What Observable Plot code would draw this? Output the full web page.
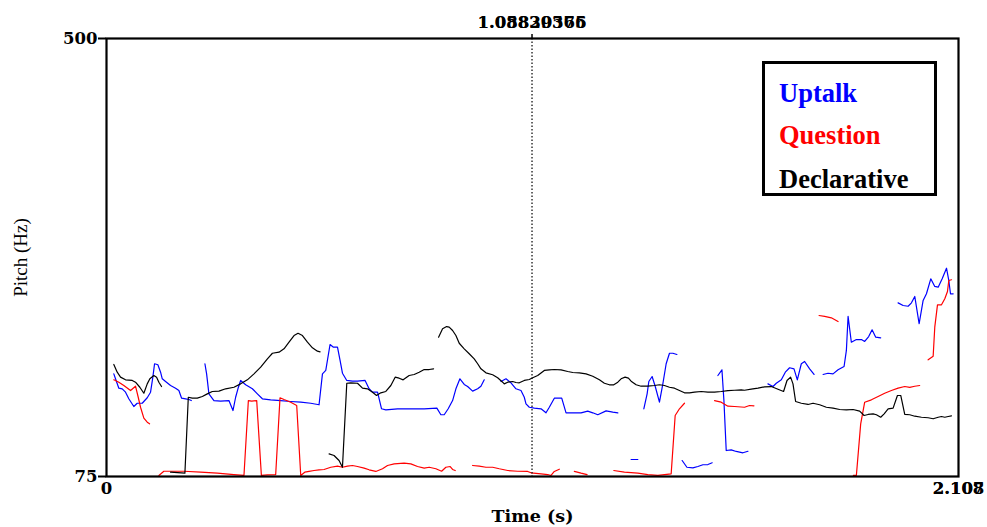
<!DOCTYPE html>
<html>
<head>
<meta charset="utf-8">
<script src="https://cdn.jsdelivr.net/npm/d3@7"></script>
<script src="https://cdn.jsdelivr.net/npm/@observablehq/plot@0.6"></script>
<style>
  html, body { margin: 0; padding: 0; background: #fff; }
  #wrap { position: relative; width: 987px; height: 527px; }
  #legend { position: absolute; left: 762px; top: 61px; width: 169px; height: 129px;
            border: 3px solid #000; background: #fff;
            font-family: "Liberation Serif", "Times New Roman", serif; font-weight: bold; font-size: 26.5px; }
  #legend div { position: absolute; left: 14px; line-height: 1; white-space: nowrap; }
</style>
</head>
<body>
<div id="wrap"></div>
<script>
// ---- data (time in s, pitch in Hz); null = unvoiced gap ----
const seriesNames = ["Uptalk", "Question", "Declarative"];
const seriesColors = ["#0000ff", "#ff0000", "#000000"];

const uptalk = [
  [0.0181,174.6],[0.0223,169.8],[0.0305,160.7],[0.0389,160.1],[0.0471,156.8],[0.0552,150.4],[0.0676,142.9],[0.0760,146.1],[0.0884,146.1],[0.1008,151.4],[0.1090,156.8],[0.1147,171.4],[0.1189,184.4],[0.1271,183.4],[0.1338,176.2],[0.1380,169.8],[0.1461,167.2],[0.1585,163.3],[0.1709,160.7],[0.1791,158.4],[0.1858,151.0],[0.1957,150.4],[0.2039,149.7],[0.2098,148.7],
  null,
  [0.2435,184.4],[0.2477,174.6],[0.2534,155.2],[0.2658,148.7],[0.2824,148.1],[0.3029,148.7],[0.3129,139.0],[0.3195,151.9],[0.3252,160.1],[0.3319,168.2],[0.3443,164.0],[0.3609,160.1],[0.3733,155.2],[0.3857,150.4],[0.4062,149.4],[0.4310,148.7],[0.4558,147.8],[0.4806,147.1],[0.5053,146.1],[0.5259,144.6],[0.5343,174.6],[0.5425,177.9],[0.5531,203.1],[0.5615,200.5],[0.5715,200.5],[0.5779,187.6],[0.5838,175.2],[0.5945,168.2],[0.6086,167.5],[0.6210,167.5],[0.6398,168.2],[0.6497,160.1],[0.6582,156.8],[0.6706,156.8],[0.6805,140.7],[0.6911,139.7],[0.7201,140.7],[0.7530,140.7],[0.7860,140.7],[0.8174,141.3],[0.8273,134.9],[0.8355,134.9],[0.8454,140.7],[0.8563,148.7],[0.8645,160.1],[0.8744,169.8],[0.8851,164.3],[0.8935,162.3],[0.9059,157.8],[0.9183,160.1],[0.9264,162.6],[0.9346,168.8],
  null,
  [0.9760,167.2],[0.9884,169.8],[1.0007,165.9],[1.0131,160.1],[1.0255,158.4],[1.0337,151.9],[1.0379,145.5],[1.0461,142.2],[1.0585,141.3],[1.0751,140.7],[1.0874,136.8],[1.0956,142.2],[1.1080,151.0],[1.1263,151.0],[1.1370,136.8],[1.1618,136.8],[1.1741,136.8],[1.1907,138.4],[1.2031,136.8],[1.2155,134.9],[1.2361,138.7],[1.2527,137.4],[1.2651,136.8],
  null,
  [1.2980,91.5],[1.3146,91.5],
  null,
  [1.3294,140.7],[1.3376,155.2],[1.3418,167.2],[1.3500,172.0],[1.3582,161.6],[1.3681,147.1],[1.3765,164.9],[1.3847,184.4],[1.3929,194.6],[1.4013,194.6],[1.4112,193.4],
  null,
  [1.4243,90.5],[1.4360,84.0],[1.4508,83.4],[1.4632,84.7],[1.4756,86.4],[1.4880,86.6],[1.4986,88.3],
  null,
  [1.5127,173.0],[1.5227,178.5],[1.5276,148.7],[1.5333,100.2],[1.5457,100.9],[1.5581,99.3],[1.5747,98.0],[1.5871,99.5],
  null,
  [1.6366,164.9],[1.6490,162.3],[1.6572,165.5],[1.6696,168.8],[1.6795,176.2],[1.6901,180.5],[1.7010,179.5],[1.7092,168.8],[1.7191,184.4],[1.7273,186.6],[1.7397,179.5],[1.7506,174.0],
  null,
  [1.7729,174.0],[1.7852,175.2],[1.7976,174.6],[1.8100,178.5],[1.8249,181.7],[1.8306,197.3],[1.8348,230.3],[1.8429,205.3],[1.8553,207.9],[1.8677,207.9],[1.8759,206.0],[1.8858,210.8],[1.8942,217.3],[1.9032,210.2],[1.9155,209.6],
  null,
  [1.9586,243.5],[1.9710,240.9],[1.9834,240.2],[1.9916,243.5],[1.9998,249.7],[2.0106,223.2],[2.0205,245.8],[2.0287,252.3],[2.0394,266.8],[2.0493,259.4],[2.0577,258.7],[2.0676,266.8],[2.0783,277.1],[2.0840,265.2],[2.0882,252.3],[2.0948,252.3]
];

const question = [
  [0.0181,168.8],[0.0305,166.5],[0.0429,163.3],[0.0595,158.4],[0.0718,162.6],[0.0785,151.9],[0.0842,142.2],[0.0924,131.6],[0.1008,127.7],[0.1065,126.1],
  null,
  [0.1296,76.0],[0.1419,80.1],[0.1585,80.1],[0.1915,80.1],[0.2328,79.2],[0.2742,78.2],[0.3153,76.9],[0.3401,76.0],[0.3510,148.7],[0.3592,148.1],[0.3716,148.7],[0.3832,76.0],[0.3981,76.6],[0.4186,76.9],[0.4293,151.4],[0.4392,149.7],[0.4558,147.1],[0.4706,143.9],[0.4806,76.0],[0.4905,79.2],[0.5011,79.9],[0.5135,80.8],[0.5259,81.5],[0.5383,81.8],[0.5549,84.0],[0.5715,85.0],[0.5838,84.0],[0.5962,85.0],[0.6086,85.7],[0.6210,84.7],[0.6374,83.1],[0.6497,81.5],[0.6663,79.9],[0.6829,82.5],[0.6953,85.7],[0.7117,87.3],[0.7364,87.9],[0.7530,87.3],[0.7696,84.7],[0.7860,83.1],[0.7984,84.0],[0.8150,82.5],[0.8291,80.1],[0.8397,84.0],[0.8504,84.7],[0.8563,81.8],[0.8628,80.8],
  null,
  [0.9059,85.7],[0.9222,85.0],[0.9388,84.0],[0.9554,84.0],[0.9718,82.5],[0.9926,80.8],[1.0173,80.1],[1.0421,79.9],[1.0503,78.6],[1.0751,77.6],[1.0917,76.9],[1.0998,76.0],[1.1080,79.9],[1.1204,82.1],
  null,
  [1.1575,79.9],[1.1741,78.2],[1.1890,76.9],
  null,
  [1.2551,80.8],[1.2814,79.2],[1.3146,78.2],[1.3393,76.9],[1.3641,76.0],[1.3971,77.6],[1.4070,134.2],[1.4176,140.7],[1.4300,146.1],
  null,
  [1.5043,148.7],[1.5209,147.1],[1.5375,143.2],[1.5539,142.9],[1.5786,142.2],[1.5910,143.9],[1.6019,143.6],
  null,
  [1.7629,231.2],[1.7768,230.3],[1.7934,229.0],[1.8100,225.4],
  null,
  [1.8479,76.0],[1.8553,76.0],[1.8660,126.1],[1.8759,147.1],[1.8925,149.4],[1.9091,152.6],[1.9254,155.8],[1.9420,158.4],[1.9586,160.7],[1.9750,162.3],[1.9874,161.4],[1.9998,162.6],[2.0121,163.3],
  null,
  [2.0329,188.2],[2.0453,191.7],[2.0493,219.9],[2.0560,241.6],[2.0659,241.6],[2.0741,247.4],[2.0807,254.5],[2.0840,265.2],[2.0907,265.9]
];

const declarative = [
  [0.0181,183.7],[0.0265,176.2],[0.0347,171.4],[0.0471,168.8],[0.0637,168.2],[0.0718,166.5],[0.0825,161.6],[0.0924,155.8],[0.1008,164.9],[0.1073,169.8],[0.1172,173.0],[0.1239,171.4],[0.1296,166.5],[0.1362,162.3],
  null,
  [0.1585,79.2],[0.1940,78.2],[0.2024,151.9],[0.2123,151.0],[0.2247,151.0],[0.2371,152.6],[0.2494,155.2],[0.2618,157.5],[0.2782,157.8],[0.2948,160.1],[0.3153,161.6],[0.3319,164.9],[0.3485,168.8],[0.3649,174.6],[0.3815,181.1],[0.3981,189.2],[0.4105,194.6],[0.4268,195.6],[0.4392,198.9],[0.4516,205.3],[0.4640,211.8],[0.4739,214.0],[0.4848,211.8],[0.4972,205.3],[0.5095,199.9],[0.5219,196.6],[0.5284,196.0],
  null,
  [0.5507,97.0],[0.5630,95.4],[0.5754,90.5],[0.5838,84.0],[0.5945,165.5],[0.6044,165.9],[0.6210,165.5],[0.6334,160.7],[0.6458,160.1],[0.6582,156.8],[0.6681,153.6],[0.6787,156.2],[0.6911,157.5],[0.7035,163.3],[0.7142,171.4],[0.7240,170.4],[0.7340,168.8],[0.7488,173.0],[0.7612,174.0],[0.7736,176.2],[0.7860,178.8],[0.7984,178.8],[0.8093,179.5],
  null,
  [0.8216,210.2],[0.8315,218.3],[0.8415,220.5],[0.8479,219.9],[0.8563,216.7],[0.8645,211.8],[0.8727,204.3],[0.8851,198.9],[0.8974,194.1],[0.9098,189.2],[0.9183,184.4],[0.9264,179.5],[0.9388,175.6],[0.9554,173.7],[0.9678,170.8],[0.9802,166.5],[0.9841,164.9],[0.9926,166.5],[1.0049,167.2],[1.0131,166.2],[1.0213,165.9],[1.0337,168.2],[1.0461,169.1],[1.0545,170.8],[1.0669,173.0],[1.0832,177.9],[1.0956,178.5],[1.1080,178.8],[1.1246,178.5],[1.1412,176.9],[1.1536,175.9],[1.1699,175.6],[1.1865,174.6],[1.2031,172.3],[1.2195,168.8],[1.2319,165.5],[1.2442,164.0],[1.2551,164.0],[1.2651,166.5],[1.2732,169.8],[1.2831,171.4],[1.2913,170.4],[1.2980,167.5],[1.3104,164.0],[1.3228,162.6],[1.3393,162.6],[1.3557,163.3],[1.3681,164.0],[1.3805,163.3],[1.3929,161.6],[1.4053,160.7],[1.4176,158.4],[1.4300,156.2],[1.4424,156.2],[1.4548,156.8],[1.4714,157.5],[1.4880,156.8],[1.5043,156.8],[1.5209,157.5],[1.5375,158.4],[1.5539,158.7],[1.5705,159.1],[1.5786,158.7],[1.5952,159.7],[1.6118,160.7],[1.6282,162.0],[1.6448,162.3],[1.6614,159.7],[1.6752,157.5],[1.6837,168.2],[1.6926,171.4],[1.6985,164.9],[1.7050,147.8],[1.7191,146.1],[1.7357,144.9],[1.7481,146.1],[1.7644,144.6],[1.7810,142.2],[1.7976,141.3],[1.8140,140.0],[1.8306,139.7],[1.8472,140.0],[1.8635,138.4],[1.8744,134.2],[1.8843,135.2],[1.8967,135.8],[1.9049,134.9],[1.9155,132.5],[1.9240,135.8],[1.9339,140.7],[1.9462,141.3],[1.9569,153.6],[1.9651,153.6],[1.9750,135.2],[1.9874,134.9],[1.9998,133.5],[2.0164,132.5],[2.0329,132.0],[2.0453,131.0],[2.0577,132.5],[2.0659,133.2],[2.0741,132.5],[2.0825,133.2],[2.0907,133.9]
];

const timeDomain = [0, 2.108];
const pitchDomain = [75, 500];
const yTicks = [75, 500];
const xTicks = [0, 2.108];
const xTickLabels = ["0", "2.108"];
const xEndLabelAlt = "2.107";
const cursorTime = 1.0528;
const cursorLabels = ["1.05829376", "1.08830565"];

// ---- build table ----
const rows = [];
[uptalk, question, declarative].forEach((arr, i) => {
  arr.forEach(p => rows.push(p ? {s: seriesNames[i], t: p[0], hz: p[1]} : {s: seriesNames[i], t: NaN, hz: NaN}));
});

const tickFont = {fontFamily: "DejaVu Serif", fontWeight: "bold", fontSize: 16.5};

const chart = Plot.plot({
  width: 987,
  height: 527,
  marginLeft: 106,
  marginRight: 29,
  marginTop: 38,
  marginBottom: 51,
  style: {background: "#fff", color: "#000"},
  x: {domain: timeDomain},
  y: {domain: pitchDomain},
  color: {domain: seriesNames, range: seriesColors},
  marks: [
    Plot.line(rows, {x: "t", y: "hz", z: "s", stroke: "s", strokeWidth: 1.2, clip: true}),
    Plot.ruleX([cursorTime], {stroke: "#000", strokeWidth: 1.2, strokeDasharray: "1.5,2"}),
    Plot.frame({stroke: "#000", strokeWidth: 2.2}),
    Plot.axisY({ticks: yTicks, tickFormat: d => String(d), tickSize: 8, tickPadding: 1, strokeWidth: 2, label: null, ...tickFont}),
    Plot.axisX({ticks: xTicks, tickFormat: (d, i) => xTickLabels[i], tickSize: 0, tickPadding: 6, label: null, ...tickFont}),
    Plot.axisX({ticks: [xTicks[1]], tickFormat: () => xEndLabelAlt, tickSize: 0, tickPadding: 6, label: null, ...tickFont}),
    Plot.axisX({anchor: "top", ticks: [cursorTime], tickFormat: () => cursorLabels[0], tickSize: 5, tickPadding: 6, strokeWidth: 1.5, label: null, ...tickFont}),
    Plot.axisX({anchor: "top", ticks: [cursorTime], tickFormat: () => cursorLabels[1], tickSize: 0, tickPadding: 11, label: null, ...tickFont}),
    Plot.text(["Pitch (Hz)"], {frameAnchor: "left", textAnchor: "middle", dx: -86, rotate: -90, fontFamily: "Liberation Serif", fontSize: 19}),
    Plot.text(["Time (s)"], {frameAnchor: "bottom", dy: 45, fontFamily: "DejaVu Serif", fontWeight: "bold", fontSize: 17.5})
  ]
});

const wrap = document.getElementById("wrap");
wrap.appendChild(chart);

const legend = document.createElement("div");
legend.id = "legend";
const tops = [15.5, 58, 101.5];
seriesNames.forEach((n, i) => {
  const d = document.createElement("div");
  d.textContent = n;
  d.style.color = seriesColors[i];
  d.style.top = tops[i] + "px";
  legend.appendChild(d);
});
wrap.appendChild(legend);
</script>
</body>
</html>
